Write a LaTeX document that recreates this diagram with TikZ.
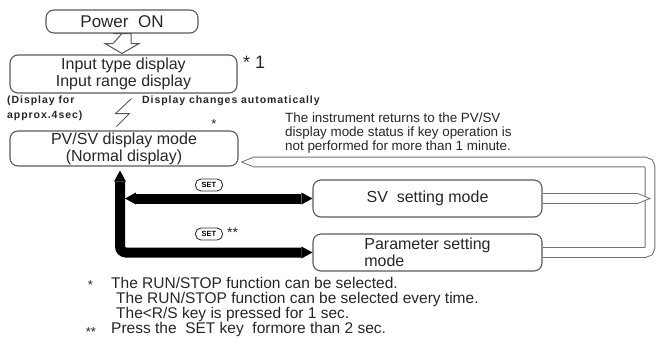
\documentclass[tikz,border=0pt]{standalone}
\usepackage{fontspec}
\setmainfont{Liberation Sans}
\newfontfamily\spacedbold[LetterSpace=9]{Liberation Sans Bold}
\usetikzlibrary{positioning,arrows.meta,calc}
\pgfdeclarelayer{back}
\pgfsetlayers{back,main}

\begin{document}
\begin{tikzpicture}[x=1pt, y=-1pt,
		box/.style={draw=black!65, line width=1.1pt, rounded corners=8pt, align=center, inner sep=0pt, text=black!85, font=\fontsize{16}{17}\selectfont},
		txt/.style={inner sep=0pt, text=black!85},
		setkey/.style={draw=black!80, line width=0.9pt, rounded corners=5.5pt, minimum width=27pt, minimum height=12pt, inner sep=0pt, font=\fontsize{7.5}{7.5}\selectfont\bfseries},
		bigarrow/.style={line width=10pt, draw=black, {Triangle[width=12pt,length=11pt,line width=0pt]}-{Triangle[width=12pt,length=11pt,line width=0pt]}},
		hollow/.style={draw=black!65, line width=1pt, fill=white, line join=miter}]
	\useasboundingbox (0,0) rectangle (656,354);

	\node[box, minimum width=152pt, minimum height=23pt, font=\fontsize{17}{17}\selectfont] (power) at (122,21.5) {Power\ \ ON};
	\node[box, minimum width=227pt, minimum height=38pt] (input) at (123.5,74) {Input type display\\Input range display};
	\node[box, minimum width=228pt, minimum height=35pt] (pvsv) at (124,148.5) {PV/SV display mode\\(Normal display)};
	\node[box, minimum width=229pt, minimum height=37pt] (sv) at (427.5,198.5) {SV\ \ setting mode};
	\node[box, minimum width=229pt, minimum height=37pt, align=left, below of=sv, node distance=54pt] (param) {Parameter setting\\mode};

	\coordinate (spine) at (120,0);
	\coordinate (turn) at (650,162);

	% return path, drawn behind the boxes
	\begin{pgfonlayer}{back}
		\foreach \lw/\col/\len/\cut in {10.6pt/black!55/13pt/0pt, 8.6pt/white/10.5pt/2.6pt}
			\draw[draw=\col, line width=\lw, rounded corners=5pt, shorten >=\cut+2pt, -{Triangle[width=\lw,length=\len,line width=0pt]}] (param.east) -| (turn) -- (turn -| pvsv.east);
		\foreach \lw/\col/\len/\cut in {10.6pt/black!55/13pt/0pt, 8.6pt/white/10.5pt/2.6pt}
			\draw[draw=\col, line width=\lw, shorten >=\cut, -{Triangle[width=\lw,length=\len,line width=0pt]}] (sv.east) -- ([xshift=1pt]sv.east -| turn);
	\end{pgfonlayer}

	\draw[hollow] (power.south) -- ($(power.south)+(-9,10)$) -- ($(power.south)+(-17,10)$) -- ($(power.south |- input.north)+(0,-1)$) -- ($(power.south)+(17,10)$) -- ($(power.south)+(9,10)$) -- ($(power.south)+(9,0)$) -- ($(power.south)+(-9,0)$) -- cycle;
	\draw[draw=black!65, line width=0.9pt] ($(input.south)+(8,5)$) -- ++(-16,15) -- ++(14,0) -- ++(-13,13);

	\draw[bigarrow, rounded corners=6pt] (param.west) -| ([yshift=-4pt]spine |- pvsv.south);
	\draw[bigarrow] ([xshift=5pt]spine |- sv.west) -- (sv.west);

	\node[setkey] (key1) at (209,185) {SET};
	\node[setkey] (key2) at (209,234) {SET};

	\node[txt, anchor=north west, font=\fontsize{18}{18}\selectfont] (mark1) at (243,56) {* 1};
	\node[txt, anchor=north, font=\fontsize{13}{13}\selectfont] (mark2) at (214,119) {*};
	\node[txt, anchor=north west, font=\fontsize{14}{14}\selectfont] (mark3) at (227,228) {**};

	\node[txt, anchor=west, align=left, font=\spacedbold\fontsize{10.5}{15}\selectfont] (wait) at (7,108.5) {(Display for\\approx.4sec)};
	\node[txt, anchor=west, font=\spacedbold\fontsize{10.5}{15}\selectfont] (auto) at (142,101) {Display changes automatically};
	\node[txt, anchor=west, align=left, font=\fontsize{13.4}{14}\selectfont] (note) at (285,133) {The instrument returns to the PV/SV\\display mode status if key operation is\\not performed for more than 1 minute.};

	\node[txt, anchor=north, font=\fontsize{13}{13}\selectfont] (star1) at (90.5,280) {*};
	\node[txt, anchor=north, font=\fontsize{13}{13}\selectfont] (star2) at (91,327) {**};
	\node[txt, anchor=west, align=left, font=\fontsize{15.5}{14.7}\selectfont] (foot) at (111,307) {The RUN/STOP function can be selected.\\
		\hspace*{5pt}The RUN/STOP function can be selected every time.\\
		\hspace*{5pt}The<R/S key is pressed for 1 sec.\\
		Press the\ \ SET key\ \ formore than 2 sec.};
\end{tikzpicture}
\end{document}
